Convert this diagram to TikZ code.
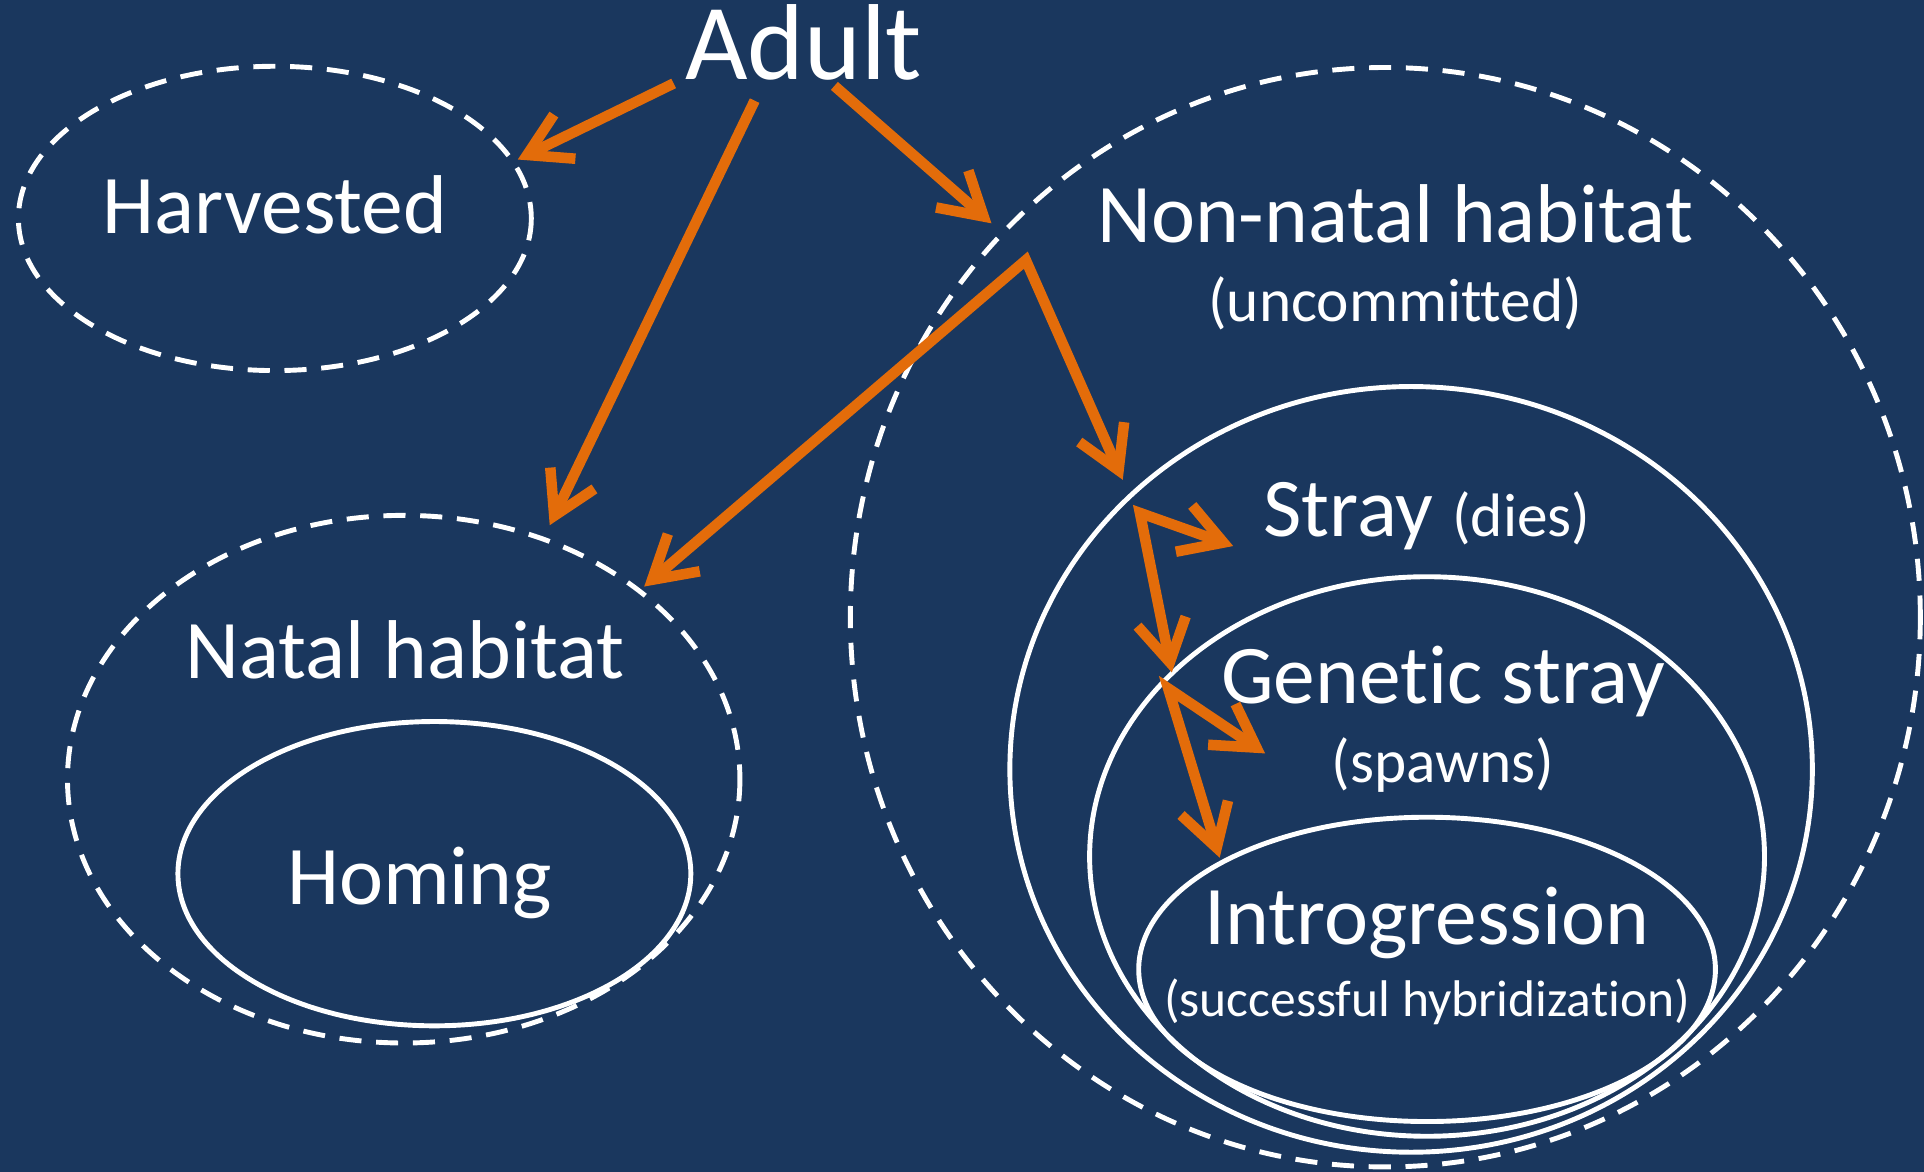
\documentclass[tikz,border=0pt]{standalone}
\usepackage{fontspec}
\setmainfont{Carlito}[Ligatures=NoCommon]
\usetikzlibrary{arrows.meta}
\definecolor{bg}{HTML}{1A375E}
\definecolor{flow}{HTML}{E36C0A}
\begin{document}
\begin{tikzpicture}[x=0.5pt,y=-0.5pt,
  zone/.style={draw=white, line width=2pt},
  dzone/.style={zone, dash pattern=on 9pt off 6pt},
  barb/.tip={Straight Barb[length=17pt,width=20pt]},
  flowarrow/.style={draw=flow, line width=4.3pt, line join=miter},
  big/.style={text=white, font=\fontsize{34}{40}\selectfont, anchor=base, inner sep=0pt},
  small/.style={text=white, font=\fontsize{25}{30}\selectfont, anchor=base, inner sep=0pt}]
\fill[bg] (0,0) rectangle (1568,955);
\useasboundingbox (0,0) rectangle (1568,955);

% habitat zones
\draw[dzone] (224,178) ellipse (209 and 124);
\draw[dzone] (329,635) ellipse (274 and 215);
\draw[zone]  (354,712) ellipse (209 and 124);
\draw[dzone] (1129,503) ellipse (436 and 448);
\draw[zone]  (1150,627) ellipse (327 and 312);
\draw[zone]  (1163,698) ellipse (275 and 228);
\draw[zone]  (1163,790) ellipse (235 and 124);

% labels
\node[text=white, font=\fontsize{44}{50}\selectfont, anchor=base, inner sep=0pt] (adult) at (655,65) {Adult};
\node[big] (harvested) at (224,190) {Harvested};
\node[big] (nonnatal) at (1137,198) {Non-natal habitat};
\node[small] (uncommitted) at (1137,262) {(uncommitted)};
\node[big] (stray) at (1163,437) {Stray {\fontsize{25}{30}\selectfont(dies)}};
\node[big] (natal) at (330,553) {Natal habitat};
\node[big] (homing) at (342,737) {Homing};
\node[big] (genetic) at (1176,573) {Genetic stray};
\node[small] (spawns) at (1176,638) {(spawns)};
\node[big] (introgression) at (1163,770) {Introgression};
\node[text=white, font=\fontsize{21}{26}\selectfont, anchor=base, inner sep=0pt] (hybrid) at (1163,828) {(successful hybridization)};

% arrow end points
\coordinate (a-h) at (549,68);
\coordinate (h-tip) at (422,130);
\coordinate (a-n) at (615,82);
\coordinate (n-tip) at (448,428);
\coordinate (a-nn) at (680,70);
\coordinate (nn-tip) at (808,182);
\coordinate (fork1) at (836,212);
\coordinate (back-tip) at (525,478);
\coordinate (s-tip) at (915,391);
\coordinate (fork2) at (929,418);
\coordinate (dies-tip) at (1005,445);
\coordinate (g-tip) at (955,548);
\coordinate (fork3) at (952,561);
\coordinate (spawn-tip) at (1031,614);
\coordinate (i-tip) at (994,699);

% movement arrows
\draw[flowarrow, -{barb}] (a-h) -- (h-tip);
\draw[flowarrow, -{barb}] (a-n) -- (n-tip);
\draw[flowarrow, -{barb}] (a-nn) -- (nn-tip);
\draw[flowarrow, {barb}-{barb}] (back-tip) -- (fork1) -- (s-tip);
\draw[flowarrow, {barb}-{barb}] (dies-tip) -- (fork2) -- (g-tip);
\draw[flowarrow, {barb}-{barb}] (spawn-tip) -- (fork3) -- (i-tip);
\end{tikzpicture}
\end{document}
